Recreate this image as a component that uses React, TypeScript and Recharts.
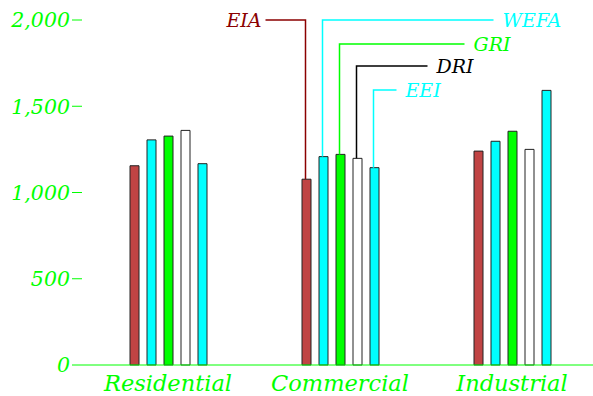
import React from 'react';
import { BarChart, Bar, XAxis, YAxis } from 'recharts';

const categories = ['Residential', 'Commercial', 'Industrial'];
const eia = [1155, 1077, 1240];
const wefa = [1305, 1208, 1297];
const gri = [1327, 1221, 1355];
const dri = [1360, 1198, 1250];
const eei = [1167, 1144, 1592];
const yTicks = [0, 500, 1000, 1500, 2000];

const seriesNames = ['EIA', 'WEFA', 'GRI', 'DRI', 'EEI'];
const fills = ['#c04444', '#00ffff', '#00ff00', '#ffffff', '#00ffff'];
const labelColors = ['#8b0000', '#00ffff', '#00ff00', '#000000', '#00ffff'];
// annotation level (in data units) and horizontal reach (px) of each callout
const annotLevels = [2000, 2000, 1861, 1733, 1594];
const annotReach = [-40, 171, 125, 71, 23];

const data = categories.map((c, i) => ({
  name: c,
  EIA: eia[i],
  WEFA: wefa[i],
  GRI: gri[i],
  DRI: dri[i],
  EEI: eei[i],
}));

const FONT = '"DejaVu Serif", serif';
const GREEN = '#00ff00';

const makeLabel = (s: number) => (props: any) => {
  const { x, y, width, height, value, index } = props;
  if (index !== 1) return null;
  const xx = Number(x) + 3.5;
  const h = Number(height);
  const base = Number(y) + h;
  const per = h / Number(value);
  const ly = base - annotLevels[s] * per;
  const reach = annotReach[s];
  const ex = xx + reach;
  const color = labelColors[s];
  const tx = reach < 0 ? ex - 4 : ex + 9;
  return (
    <g>
      <polyline
        points={`${xx},${Number(y)} ${xx},${ly} ${ex},${ly}`}
        fill="none"
        stroke={color}
        strokeWidth={1.5}
      />
      <text
        x={tx}
        y={ly}
        fill={color}
        fontFamily={FONT}
        fontStyle="italic"
        fontSize={19}
        textAnchor={reach < 0 ? 'end' : 'start'}
        dominantBaseline="central"
      >
        {seriesNames[s]}
      </text>
    </g>
  );
};

const fmt = (v: number) => v.toLocaleString('en-US');

export default function App() {
  return (
    <div style={{ position: 'absolute', left: 0, top: 0, width: 593, height: 396, overflow: 'hidden', background: '#fff' }}>
      <BarChart
        width={600}
        height={396}
        data={data}
        margin={{ top: 20, right: 2, bottom: 0, left: 0 }}
        barSize={9}
        barGap={8}
      >
        <XAxis
          dataKey="name"
          axisLine={{ stroke: GREEN, strokeWidth: 1 }}
          tickLine={false}
          height={31}
          tick={{ fill: GREEN, fontFamily: FONT, fontStyle: 'italic', fontSize: 22.5 }}
          tickMargin={4}
        />
        <YAxis
          domain={[0, 2000]}
          ticks={yTicks}
          width={82}
          axisLine={false}
          tickLine={{ stroke: GREEN, strokeWidth: 1 }}
          tickSize={10}
          tickMargin={2}
          tickFormatter={fmt}
          tick={{ fill: GREEN, fontFamily: FONT, fontStyle: 'italic', fontSize: 20.5 }}
        />
        {seriesNames.map((n, s) => (
          <Bar
            key={n}
            dataKey={n}
            fill={fills[s]}
            stroke="#222"
            strokeWidth={1}
            isAnimationActive={false}
            label={makeLabel(s)}
          />
        ))}
      </BarChart>
    </div>
  );
}
